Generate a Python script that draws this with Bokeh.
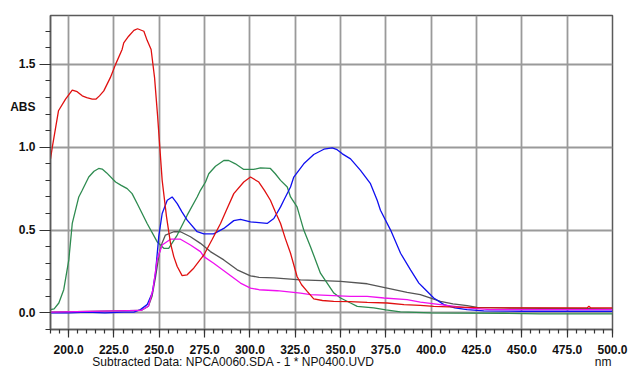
from bokeh.plotting import figure
from bokeh.models import (SingleIntervalTicker, FixedTicker, PrintfTickFormatter, Range1d,
                          LinearAxis)
from bokeh.embed import file_html
from bokeh.resources import INLINE

# ---- data ----
red_x = [190, 191, 194.4, 198.3, 202, 204.7, 207.5, 210, 213, 215, 217, 219.4, 223, 225.9, 229.5, 230.4,
         233.1, 236, 238, 241.5, 243.3, 245.5, 247.4, 249, 250.3, 251.6, 254, 256.2, 258, 259.9, 262.6,
         265.4, 269, 274.6, 279, 283.8, 287, 291.1, 296.6, 300.3, 304.9, 308, 311.3, 314, 316.9, 319.5,
         322.4, 326, 328.5, 331.6, 335.2, 340, 346.2, 355, 364.7, 375.7, 385, 394, 401.4, 410, 425.3,
         450, 480, 486, 487, 488, 500]
red_y = [0.93, 1.0, 1.22, 1.29, 1.345, 1.335, 1.31, 1.30, 1.29, 1.29, 1.31, 1.34, 1.42, 1.50, 1.59, 1.63,
         1.67, 1.705, 1.715, 1.70, 1.645, 1.59, 1.42, 1.20, 1.0, 0.8, 0.58, 0.42, 0.34, 0.28, 0.225,
         0.23, 0.27, 0.35, 0.44, 0.54, 0.62, 0.72, 0.79, 0.82, 0.79, 0.74, 0.68, 0.61, 0.54, 0.45,
         0.36, 0.22, 0.17, 0.13, 0.085, 0.075, 0.07, 0.068, 0.064, 0.06, 0.05, 0.045, 0.04, 0.036, 0.032,
         0.03, 0.03, 0.03, 0.04, 0.03, 0.03]

green_x = [190, 192, 194.6, 197.3, 200.1, 202, 205.6, 207.5, 211.1, 214, 216.6, 218.5, 221, 225.9, 229,
           232.3, 235, 237.8, 243.3, 248.8, 252.5, 255.2, 259.9, 265.4, 270.9, 272.7, 275.5, 277.3, 281,
           285.6, 288.3, 292, 296.6, 302.1, 305.8, 311.3, 314, 316.9, 320.6, 322.4, 326, 329.7, 333.4,
           338.9, 346.3, 350, 355.5, 359.2, 368.3, 375, 383, 400, 440, 460, 480, 500]
green_y = [0.02, 0.025, 0.06, 0.14, 0.32, 0.54, 0.70, 0.74, 0.82, 0.855, 0.872, 0.868, 0.845, 0.79, 0.77,
           0.75, 0.72, 0.66, 0.54, 0.43, 0.39, 0.39, 0.47, 0.59, 0.70, 0.74, 0.79, 0.84, 0.885,
           0.92, 0.92, 0.90, 0.866, 0.866, 0.876, 0.872, 0.84, 0.80, 0.76, 0.70, 0.64, 0.50, 0.40,
           0.24, 0.12, 0.09, 0.06, 0.04, 0.03, 0.018, 0.006, 0.0, -0.002, -0.006, -0.006, -0.006]

blue_x = [190, 200, 210, 220, 230, 236, 239.6, 243.3, 246.1, 247.9, 249.7, 251.6, 254.4, 257.1, 259.9,
          262.5, 265.4, 270.9, 274.6, 280, 285.6, 291.1, 294.8, 300.3, 305, 309.5, 313.2, 316.9, 318.7,
          322.4, 324.2, 329.7, 335.2, 340.8, 345.4, 348.1, 351, 355.5, 361, 366.5, 370.2, 372, 377.6,
          383.1, 388.6, 393.2, 395.9, 401.4, 407, 413, 419.8, 429, 450, 500]
blue_y = [0.0, 0.0, 0.005, 0.0, 0.005, 0.005, 0.02, 0.05, 0.12, 0.24, 0.46, 0.60, 0.68, 0.70, 0.66,
          0.61, 0.56, 0.49, 0.477, 0.477, 0.51, 0.557, 0.565, 0.55, 0.545, 0.54, 0.57, 0.64, 0.68,
          0.76, 0.82, 0.90, 0.956, 0.988, 0.996, 0.985, 0.96, 0.93, 0.86, 0.78, 0.68, 0.62, 0.50,
          0.36, 0.26, 0.18, 0.15, 0.09, 0.05, 0.03, 0.02, 0.012, 0.01, 0.01]

grey_x = [190, 240, 244, 246, 248, 250, 251.5, 253.4, 258, 261.7, 267.2, 272.7, 278.2, 285.6, 293, 300.3,
          305, 313.2, 327.9, 340, 350, 364.7, 375.7, 386.7, 394, 405.1, 412, 419.8, 425.3, 440, 500]
grey_y = [0.005, 0.015, 0.04, 0.10, 0.22, 0.36, 0.42, 0.47, 0.49, 0.49, 0.46, 0.42, 0.37, 0.32, 0.26, 0.224,
          0.215, 0.212, 0.20, 0.195, 0.19, 0.176, 0.15, 0.124, 0.11, 0.07, 0.055, 0.044, 0.034, 0.03, 0.025]

magenta_x = [190, 240, 244, 246.5, 248.8, 251.6, 256.2, 261.7, 267.2, 272.7, 274.6, 280, 287.5, 294.8,
             300.3, 305, 315, 327.9, 333.4, 355.5, 364.7, 373.9, 386.7, 394, 405.1, 419.8, 432.7, 450, 500]
magenta_y = [0.005, 0.015, 0.04, 0.14, 0.32, 0.41, 0.445, 0.445, 0.41, 0.37, 0.34, 0.30, 0.24, 0.18,
             0.15, 0.14, 0.134, 0.12, 0.11, 0.10, 0.10, 0.09, 0.08, 0.065, 0.05, 0.03, 0.02, 0.02, 0.02]

x_tick_interval = 25
y_tick_interval = 0.5
y_ticks = [0.0, 0.5, 1.0, 1.5]
y_label = "ABS"
y_label_pos = 1.24
x_label = "nm"
x_label_pos = 494.8
subtitle = "Subtracted Data: NPCA0060.SDA - 1 * NP0400.UVD"
subtitle_pos = 290.9

FONT = "Liberation Sans"
AX = "#5a5a5a"
TK = "#333333"
TXT = "#111111"

p = figure(width=628, height=371, output_backend="svg", toolbar_location=None,
           x_range=Range1d(190, 500), y_range=Range1d(-0.1, 1.795),
           min_border_left=50, min_border_right=16, min_border_top=15, min_border_bottom=41)
p.background_fill_color = "white"
p.border_fill_color = "white"
p.outline_line_color = AX
p.outline_line_width = 1.5

# inner axes: ticks (x with labels, y ticks only)
p.xaxis.ticker = SingleIntervalTicker(interval=x_tick_interval, num_minor_ticks=5)
p.yaxis.ticker = SingleIntervalTicker(interval=y_tick_interval, num_minor_ticks=5)
p.xaxis.formatter = PrintfTickFormatter(format="%.1f")
p.yaxis.formatter = PrintfTickFormatter(format="")

for ax in (p.xaxis, p.yaxis):
    ax.axis_line_color = AX
    ax.axis_line_width = 1.5
    ax.major_tick_line_color = TK
    ax.minor_tick_line_color = TK
    ax.major_tick_line_width = 1.2
    ax.minor_tick_line_width = 1.2
    ax.major_tick_in = 0
    ax.minor_tick_in = 0
    ax.major_label_text_font = FONT
    ax.major_label_text_font_size = "12px"
    ax.major_label_text_font_style = "bold"
    ax.major_label_text_color = TXT

p.xaxis.major_tick_out = 8
p.xaxis.minor_tick_out = 4
p.xaxis.major_label_standoff = 7
p.yaxis.major_tick_out = 11
p.yaxis.minor_tick_out = 5
p.yaxis.major_label_standoff = 0
p.yaxis.major_label_text_font_size = "0px"

# outer left axis: tick labels plus the "ABS" label
ylab_axis = LinearAxis(ticker=FixedTicker(ticks=y_ticks + [y_label_pos], minor_ticks=[]),
                       formatter=PrintfTickFormatter(format="%.1f"),
                       major_label_overrides={y_label_pos: y_label},
                       axis_line_color=None, major_tick_line_color=None, minor_tick_line_color=None,
                       major_tick_out=0, minor_tick_out=0, major_tick_in=0, minor_tick_in=0,
                       major_label_standoff=4, major_label_text_font=FONT,
                       major_label_text_font_size="12px", major_label_text_font_style="bold",
                       major_label_text_color=TXT)
p.add_layout(ylab_axis, "left")

# outer bottom axis: subtitle and unit label
xlab_axis = LinearAxis(ticker=FixedTicker(ticks=[subtitle_pos, x_label_pos], minor_ticks=[]),
                       major_label_overrides={subtitle_pos: subtitle, x_label_pos: x_label},
                       axis_line_color=None, major_tick_line_color=None, minor_tick_line_color=None,
                       major_tick_out=0, minor_tick_out=0, major_tick_in=0, minor_tick_in=0,
                       major_label_standoff=-2, major_label_text_font=FONT,
                       major_label_text_font_size="12px", major_label_text_font_style="normal",
                       major_label_text_color=TXT)
p.add_layout(xlab_axis, "below")

p.grid.grid_line_color = "#9a9a9a"
p.grid.grid_line_width = 1.8

lw = 1.3
p.line(grey_x, grey_y, line_color="#555555", line_width=lw)
p.line(green_x, green_y, line_color="#2e8b50", line_width=lw)
p.line(blue_x, blue_y, line_color="#1010f0", line_width=lw)
p.line(magenta_x, magenta_y, line_color="#f010f0", line_width=lw)
p.line(red_x, red_y, line_color="#e01010", line_width=lw)

open("out.html", "w").write(file_html(p, INLINE))
